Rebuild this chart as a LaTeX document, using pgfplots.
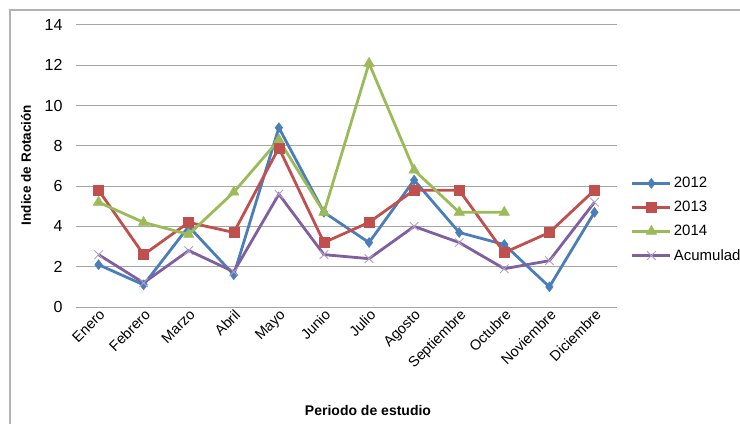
\documentclass[border=0pt]{standalone}
\usepackage{pgfplots}
\pgfplotsset{compat=1.18}
\usepackage{fontspec}
\setmainfont{Liberation Sans}
\definecolor{c2012}{HTML}{4A7EBB}
\definecolor{c2013}{HTML}{C0504D}
\definecolor{c2014}{HTML}{9BBB59}
\definecolor{cacum}{HTML}{7F5FA0}
\begin{document}
\begin{tikzpicture}[x=1pt,y=1pt]
\path[use as bounding box, clip] (0,0) rectangle (740,424);
\draw[gray!60, line width=1.2pt] (10,0) -- (10,414) -- (760,414);
\begin{axis}[
  at={(76pt,117pt)}, anchor=south west,
  scale only axis, width=541pt, height=282pt,
  xmin=-0.5, xmax=11.5, ymin=0, ymax=14,
  ytick={0,2,...,14},
  xtick={0,...,11},
  xticklabels={Enero,Febrero,Marzo,Abril,Mayo,Junio,Julio,Agosto,Septiembre,Octubre,Noviembre,Diciembre},
  xticklabel style={rotate=45, anchor=north east, font=\fontsize{14.5}{14.5}\selectfont, inner sep=1pt},
  yticklabel style={font=\fontsize{16}{16}\selectfont, xshift=-10pt},
  /pgf/number format/assume math mode=true,
  major tick length=0pt,
  ymajorgrids, grid style={gray!70, line width=1pt},
  axis line style={draw=none},
  clip=false,
  legend style={at={(1.02,0.31)}, anchor=west, draw=none, fill=none,
    font=\fontsize{15}{15}\selectfont, row sep=8pt, cells={anchor=west}},
  legend image code/.code={\draw[#1] (0pt,0pt) -- (38pt,0pt); \draw[#1, only marks] plot coordinates {(19pt,0pt)};},
  every axis plot/.append style={line width=2.8pt},
]
\addplot[c2012, mark=diamond*, mark size=5pt, mark options={fill=c2012, line width=0.5pt}] coordinates {
(0,2.1) (1,1.1) (2,4.0) (3,1.6) (4,8.9) (5,4.7) (6,3.2) (7,6.3) (8,3.7) (9,3.1) (10,1.0) (11,4.7)};
\addlegendentry{2012}
\addplot[c2013, mark=square*, mark size=5pt, mark options={fill=c2013, line width=0.5pt}] coordinates {
(0,5.8) (1,2.6) (2,4.2) (3,3.7) (4,7.9) (5,3.2) (6,4.2) (7,5.8) (8,5.8) (9,2.7) (10,3.7) (11,5.8)};
\addlegendentry{2013}
\addplot[c2014, mark=triangle*, mark size=6pt, mark options={fill=c2014, line width=0.5pt}] coordinates {
(0,5.2) (1,4.2) (2,3.6) (3,5.7) (4,8.3) (5,4.7) (6,12.1) (7,6.8) (8,4.7) (9,4.7)};
\addlegendentry{2014}
\addplot[cacum, mark=x, mark size=6pt, mark options={cacum!60, line width=0.9pt}] coordinates {
(0,2.6) (1,1.2) (2,2.8) (3,1.75) (4,5.6) (5,2.6) (6,2.4) (7,4.0) (8,3.2) (9,1.9) (10,2.3) (11,5.2)};
\addlegendentry{Acumulado}
\end{axis}
\node[rotate=90, font=\bfseries\fontsize{13.5}{13.5}\selectfont] at (26,259) {Indice de Rotación};
\node[font=\bfseries\fontsize{14}{14}\selectfont] at (368,14) {Periodo de estudio};
\end{tikzpicture}
\end{document}
